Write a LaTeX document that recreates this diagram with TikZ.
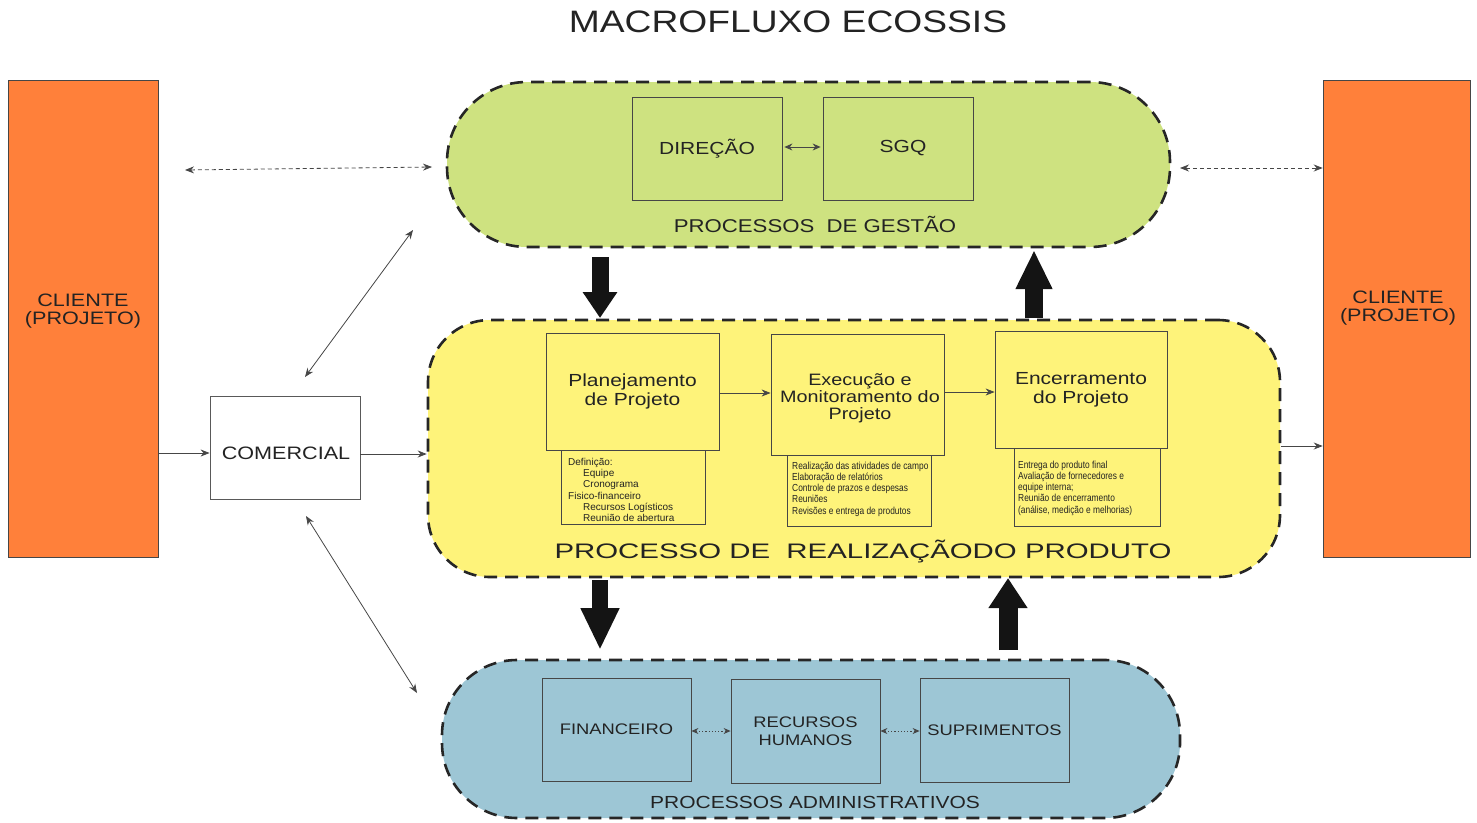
\documentclass[tikz,border=0pt]{standalone}
\usepackage{fontspec}
\setmainfont[FakeStretch=1.2]{Liberation Sans}
\newfontfamily\widefont[FakeStretch=1.4]{Liberation Sans}
\newfontfamily\narrowfont[FakeStretch=0.82]{Liberation Sans}
\newfontfamily\plainfont{Liberation Sans}
\usetikzlibrary{arrows.meta,calc}
\definecolor{cOrange}{RGB}{255,128,58}
\definecolor{cGreen}{RGB}{206,226,128}
\definecolor{cYellow}{RGB}{254,243,122}
\definecolor{cBlue}{RGB}{157,198,213}
\definecolor{cLine}{RGB}{70,70,70}
\definecolor{cText}{RGB}{35,35,35}
\begin{document}
\begin{tikzpicture}[x=1pt,y=-1pt,
  capsule/.style={draw=black!85, line width=2.6pt, dash pattern=on 13pt off 8pt, inner sep=0pt},
  box/.style={draw=cLine, line width=0.8pt, inner sep=0pt, align=center, text=cText},
  client/.style={draw=cLine, line width=0.6pt, fill=cOrange, inner sep=0pt, align=center, text=cText,
     minimum width=150pt, minimum height=477pt, font=\fontsize{18}{18}\selectfont},
  lbl/.style={inner sep=0pt, text=cText, align=center},
  sublbl/.style={inner sep=0pt, text=cText, align=left, anchor=west},
  thin/.style={draw=cLine, line width=0.8pt, -{Stealth[length=9pt,width=7pt]}},
  both/.style={draw=cLine, line width=0.8pt, {Stealth[length=9pt,width=7pt]}-{Stealth[length=9pt,width=7pt]}},
  dasharr/.style={both, dash pattern=on 4pt off 3pt},
  dotarr/.style={draw=cLine, line width=0.8pt, dash pattern=on 1.2pt off 2pt, {Stealth[length=7pt,width=6pt]}-{Stealth[length=7pt,width=6pt]}},
  bigarrow/.style n args={3}{draw=black!92, line width=#1, -{Triangle[width=#2,length=#3]}}
]
\useasboundingbox (0,0) rectangle (1477,822);

% title
\node[lbl, font=\fontsize{31}{31}\selectfont] (title) at (788,22) {MACROFLUXO ECOSSIS};

% clients
\node[client] (cliL) at (83,318.5) {};
\node[lbl, font=\fontsize{18}{18}\selectfont] (cliLt) at (83,311) {CLIENTE\\(PROJETO)};
\node[client, minimum width=147pt] (cliR) at (1396.5,318.5) {};
\node[lbl, font=\fontsize{18}{18}\selectfont] (cliRt) at (1398,308) {CLIENTE\\(PROJETO)};

% capsules
\node[capsule, fill=cGreen, rounded corners=80pt, minimum width=723pt, minimum height=165pt] (green) at (808.5,164.5) {};
\node[capsule, fill=cYellow, rounded corners=62pt, minimum width=852pt, minimum height=257pt] (yellow) at (854,448.5) {};
\node[capsule, fill=cBlue, rounded corners=75pt, minimum width=738pt, minimum height=158pt] (blue) at (811,739) {};

% gestão
\node[box, minimum width=150pt, minimum height=103pt, font=\fontsize{17.5}{19}\selectfont] (dir) at (707,148.5) {DIREÇÃO};
\node[box, minimum width=150pt, minimum height=103pt] (sgq) at (898,148.5) {};
\node[lbl, font=\fontsize{17.5}{19}\selectfont] (sgqt) at (903,148) {SGQ};
\draw[draw=cLine, line width=0.8pt, {Stealth[length=8pt,width=7pt]}-{Stealth[length=8pt,width=7pt]}] ([xshift=2pt,yshift=1.5pt]dir.east) -- ([xshift=-2pt,yshift=1.5pt]sgq.west);
\node[lbl, font=\fontsize{18.5}{19}\selectfont] (gestao) at (815,224) {PROCESSOS\ \ DE GESTÃO};

% realização
\node[box, minimum width=173pt, minimum height=117pt, font=\fontsize{17.5}{19}\selectfont] (plan) at (632.5,391.5) {Planejamento\\de Projeto};
\node[box, minimum width=173pt, minimum height=121pt] (exec) at (857.5,394.5) {};
\node[lbl, font=\fontsize{16.5}{17}\selectfont] (exect) at (860,398) {Execução e\\Monitoramento do\\Projeto};
\node[box, minimum width=172pt, minimum height=117pt, font=\fontsize{17.5}{19}\selectfont] (enc) at (1081,389.5) {Encerramento\\do Projeto};

\node[box, minimum width=144pt, minimum height=74pt] (plansub) at (633,487) {};
\node[sublbl, font=\plainfont\fontsize{10}{11.2}\selectfont] (plansubt) at (568,490)
  {Definição:\\\hspace*{15pt}Equipe\\\hspace*{15pt}Cronograma\\Fisico-financeiro\\\hspace*{15pt}Recursos Logísticos\\\hspace*{15pt}Reunião de abertura};
\node[box, minimum width=144pt, minimum height=71pt] (execsub) at (859,490.5) {};
\node[sublbl, font=\narrowfont\fontsize{10.2}{11.3}\selectfont] (execsubt) at (792,489)
  {Realização das atividades de campo\\Elaboração de relatórios\\Controle de prazos e despesas\\Reuniões\\Revisões e entrega de produtos};
\node[box, minimum width=146pt, minimum height=78pt] (encsub) at (1087,487) {};
\node[sublbl, font=\narrowfont\fontsize{10.2}{11.3}\selectfont] (encsubt) at (1018,488)
  {Entrega do produto final\\Avaliação de fornecedores e\\equipe interna;\\Reunião de encerramento\\(análise, medição e melhorias)};

\draw[thin] (plan.east |- 0,393) -- (exec.west |- 0,393);
\draw[thin] (exec.east |- 0,392) -- (enc.west |- 0,392);

\node[lbl, font=\widefont\fontsize{21}{21}\selectfont] (real) at (863,551) {PROCESSO DE\ \ REALIZAÇÃODO PRODUTO};

% administrativos
\node[box, minimum width=149pt, minimum height=103pt, font=\fontsize{15.3}{18}\selectfont] (fin) at (616.5,729.5) {FINANCEIRO};
\node[box, minimum width=149pt, minimum height=104pt, font=\fontsize{15.3}{18}\selectfont] (rh) at (805.5,731) {RECURSOS\\HUMANOS};
\node[box, minimum width=149pt, minimum height=104pt, font=\fontsize{15.3}{18}\selectfont] (sup) at (994.5,730) {SUPRIMENTOS};
\draw[dotarr] (fin.east |- 0,731) -- (rh.west |- 0,731);
\draw[dotarr] (rh.east |- 0,731) -- (sup.west |- 0,731);
\node[lbl, font=\fontsize{17.5}{18}\selectfont] (adm) at (815,802) {PROCESSOS ADMINISTRATIVOS};

% comercial
\node[box, draw=cLine!90, fill=white, minimum width=150pt, minimum height=103pt] (com) at (285,447.5) {};
\node[lbl, font=\fontsize{18}{18}\selectfont] (comt) at (286,453) {COMERCIAL};
\draw[thin] (cliL.east |- 0,453) -- (com.west |- 0,453);
\draw[thin] (com.east |- 0,454) -- (yellow.west |- 0,454);
\draw[thin] (yellow.east |- 0,446) -- (cliR.west |- 0,446);

\coordinate (c1a) at (305,377);
\coordinate (c1b) at (413,230);
\coordinate (c2a) at (306,516);
\coordinate (c2b) at (417,693);
\draw[both] (c1a) -- (c1b);
\draw[both] (c2a) -- (c2b);

\coordinate (dl1) at (185,170);
\coordinate (dl2) at (432,167);
\coordinate (dr1) at (1180,168);
\draw[dasharr] (dl1) -- (dl2);
\draw[dasharr] (dr1) -- (cliR.west |- dr1);

% big arrows
\coordinate (a1s) at (600,257); \coordinate (a1e) at (600,318);
\coordinate (a2s) at (1034,318); \coordinate (a2e) at (1034,250);
\coordinate (a3s) at (600,580); \coordinate (a3e) at (600,650);
\coordinate (a4s) at (1008,650); \coordinate (a4e) at (1008,578);
\draw[bigarrow={17pt}{33pt}{26pt}] (a1s) -- (a1e);
\draw[bigarrow={18pt}{34pt}{39pt}] (a2s) -- (a2e);
\draw[bigarrow={16pt}{36pt}{42pt}] (a3s) -- (a3e);
\draw[bigarrow={19pt}{37pt}{30pt}] (a4s) -- (a4e);
\end{tikzpicture}
\end{document}
